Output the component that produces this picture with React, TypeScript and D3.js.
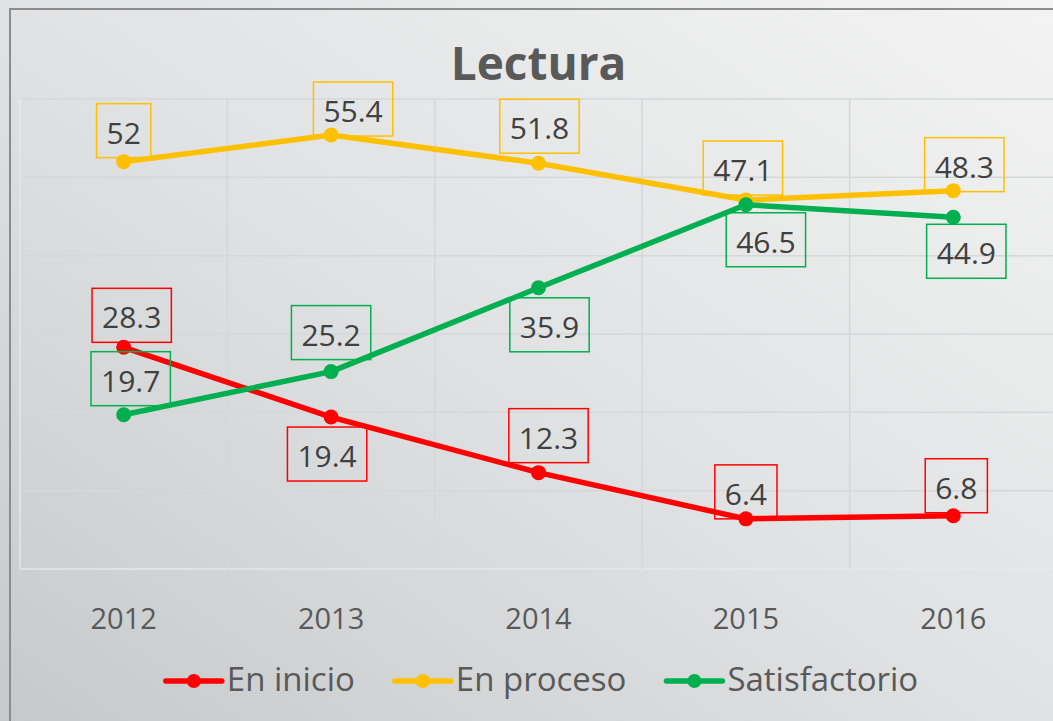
import React from 'react';
import * as d3 from 'd3';

const years = ['2012', '2013', '2014', '2015', '2016'];
const enInicio = [28.3, 19.4, 12.3, 6.4, 6.8];
const enProceso = [52, 55.4, 51.8, 47.1, 48.3];
const satisfactorio = [19.7, 25.2, 35.9, 46.5, 44.9];
const seriesNames = ['En inicio', 'En proceso', 'Satisfactorio'];
const yTicks = [0, 10, 20, 30, 40, 50, 60];

// label layout: [side (-1 above, 1 below), gap to point, horizontal nudge]
const labelLayout = [
  [[-1, 5, 8], [1, 10, -4], [-1, 10, 10], [-1, 0, 0], [-1, 3, 3]],
  [[-1, 4, 0], [-1, -1, 22], [-1, 10, 1], [-1, 5, -3], [-1, -1, 11]],
  [[-1, 9, 7], [-1, 12, 0], [1, 10, 11], [1, 8, 20], [1, 7, 13]],
];

const colors = ['#ff0000', '#ffc000', '#00b050'];
const FONT = "'Open Sans', 'Noto Sans', sans-serif";

const canvas = document.createElement('canvas');
const ctx = canvas.getContext('2d');
const measure = (text: string, font: string) => {
  if (!ctx) return text.length * 16;
  ctx.font = font;
  return ctx.measureText(text).width;
};

function App() {
  const width = 1053;
  const height = 721;
  const plot = { left: 20, right: 1057, top: 99, bottom: 569 };

  const x = d3
    .scaleBand<string>()
    .domain(years)
    .range([plot.left, plot.right])
    .padding(0);
  const y = d3.scaleLinear().domain([0, 60]).range([plot.bottom, plot.top]);
  const cx = (yr: string) => (x(yr) as number) + x.bandwidth() / 2;

  const series = [enInicio, enProceso, satisfactorio];

  const line = d3
    .line<number>()
    .x((_, i) => cx(years[i]))
    .y((d) => y(d));

  const labelFont = `30px ${FONT}`;
  const legendFont = `33px ${FONT}`;
  const boxH = 54;

  const lineW = 56;
  const legendItems = seriesNames.map((name) => ({
    name,
    w: lineW + 5 + measure(name, legendFont),
  }));
  const legendTotal = d3.sum(legendItems, (d) => d.w) + 40 * (legendItems.length - 1);
  let lx = 542 - legendTotal / 2;
  const legendPos = legendItems.map((d) => {
    const p = lx;
    lx += d.w + 40;
    return p;
  });

  const bandEdges = years.map((yr) => x(yr) as number).concat([plot.right]);

  return (
    <svg
      width={width}
      height={height}
      style={{ position: 'absolute', left: 0, top: 0, display: 'block' }}
    >
      <defs>
        <linearGradient id="bg" x1="0" y1="1" x2="1" y2="0">
          <stop offset="0" stopColor="#c6c9cb" />
          <stop offset="0.5" stopColor="#e1e2e3" />
          <stop offset="1" stopColor="#f3f3f3" />
        </linearGradient>
      </defs>
      <rect x={0} y={0} width={width} height={height} fill="url(#bg)" />
      <rect
        x={10}
        y={9}
        width={width + 20}
        height={height + 20}
        fill="none"
        stroke="#8c8c8c"
        strokeWidth={2}
      />

      <text
        x={538.5}
        y={80}
        textAnchor="middle"
        fontFamily={FONT}
        fontWeight="bold"
        fontSize={46}
        fill="#595959"
      >
        Lectura
      </text>

      <g className="grid">
        {yTicks.map((t) => (
          <line
            key={t}
            x1={plot.left}
            x2={plot.right}
            y1={y(t)}
            y2={y(t)}
            stroke={t === 0 ? '#e6e7e8' : '#d6d7d8'}
            strokeWidth={1.5}
          />
        ))}
        {bandEdges.map((e, i) => (
          <line
            key={i}
            x1={e}
            x2={e}
            y1={plot.top}
            y2={plot.bottom}
            stroke={i === 0 ? '#e6e7e8' : '#d6d7d8'}
            strokeWidth={1.5}
          />
        ))}
      </g>

      <g className="x-axis">
        {years.map((yr) => (
          <text
            key={yr}
            x={cx(yr)}
            y={629}
            textAnchor="middle"
            fontFamily={FONT}
            fontSize={29}
            fill="#595959"
          >
            {yr}
          </text>
        ))}
      </g>

      <g className="series">
        {series.map((values, s) => (
          <g key={s}>
            <path
              d={line(values) ?? ''}
              fill="none"
              stroke={colors[s]}
              strokeWidth={5.5}
              strokeLinejoin="round"
              strokeLinecap="round"
            />
            {values.map((v, i) => (
              <circle key={i} cx={cx(years[i])} cy={y(v)} r={7.5} fill={colors[s]} />
            ))}
          </g>
        ))}
      </g>

      <g className="labels">
        {series.map((values, s) =>
          values.map((v, i) => {
            const text = String(v);
            const w = measure(text, labelFont) + 20;
            const [side, gap, dx] = labelLayout[s][i];
            const px = cx(years[i]) + dx;
            const py = y(v);
            const top = side < 0 ? py - gap - boxH : py + gap;
            return (
              <g key={`${s}-${i}`}>
                <rect
                  x={px - w / 2}
                  y={top}
                  width={w}
                  height={boxH}
                  fill="none"
                  stroke={colors[s]}
                  strokeWidth={1.5}
                />
                <text
                  x={px}
                  y={top + 40}
                  textAnchor="middle"
                  fontFamily={FONT}
                  fontSize={30}
                  fill="#404040"
                >
                  {text}
                </text>
              </g>
            );
          })
        )}
      </g>

      <g className="legend">
        {legendItems.map((d, i) => (
          <g key={d.name} transform={`translate(${legendPos[i]} 681)`}>
            <line
              x1={0}
              x2={lineW}
              y1={0}
              y2={0}
              stroke={colors[i]}
              strokeWidth={5.5}
              strokeLinecap="round"
            />
            <circle cx={lineW / 2} cy={0} r={7} fill={colors[i]} />
            <text
              x={lineW + 5}
              y={10}
              fontFamily={FONT}
              fontSize={33}
              fill="#595959"
            >
              {d.name}
            </text>
          </g>
        ))}
      </g>
    </svg>
  );
}

export default App;
